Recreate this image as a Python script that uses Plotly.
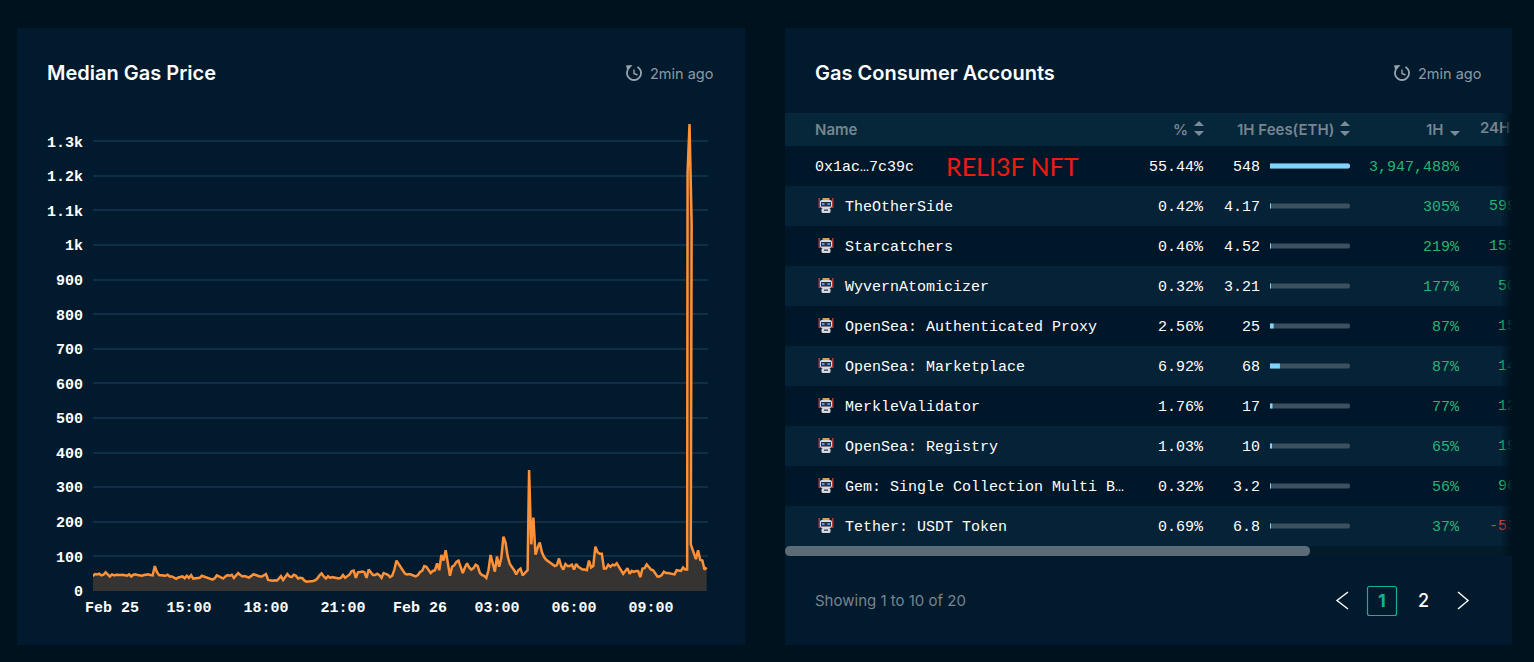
import math
import pandas as pd
import plotly.graph_objects as go

# median gas price, one value every 5 min
gas_price = [
    43, 49, 48, 50, 45, 47, 54, 48, 42, 48, 45,
    47, 46, 46, 47, 45, 44, 48, 42, 47, 48, 46, 44, 44, 46, 47, 48, 46, 45,
    72, 55, 46, 45, 43, 44, 47, 42, 42, 38, 35, 39, 40, 42, 37, 44, 38, 46, 36, 37, 36, 38, 44, 42,
    38, 36, 34, 33, 37, 45, 42, 40, 36, 42, 46, 44, 47, 38, 44, 52, 46, 42, 43, 41, 39,
    43, 48, 47, 44, 42, 42, 46, 49, 32, 30, 30, 31, 30, 36, 43, 32, 42, 49, 42, 40, 47, 44, 36, 38, 37, 30,
    27, 27, 27, 29, 31, 36, 45, 51, 42, 36, 43, 38, 40, 39, 38, 36, 38, 46, 38, 42, 47, 57, 59, 38, 54, 55, 56, 54, 38,
    62, 52, 46, 46, 50, 46, 38, 52, 50, 47, 40, 44, 62, 88, 78, 68, 58, 50, 48,
    49, 47, 44, 42, 46, 55, 58, 72, 70, 62, 52, 58, 60,
    80, 60, 104, 88, 118, 80, 44, 70, 74, 84, 88, 70, 52, 68, 80, 68, 62, 66, 76, 72, 52, 46, 44, 38, 60, 104, 82, 56, 100,
    70, 95, 157, 140, 100, 78, 70, 60, 48, 60, 65, 45, 52, 60,
    350, 135, 212, 105, 125, 140, 112, 98, 90, 85, 82, 76, 72, 75, 94, 72,
    62, 78, 72, 72, 76, 62, 78, 70, 65, 62, 62, 60, 88, 68, 72, 128, 112, 108, 108, 65, 65, 76, 70, 76, 74, 80, 70, 58, 50, 58,
    66, 50, 58, 55, 58, 58, 40, 65, 66, 77, 70, 62, 60, 52, 42, 42, 46, 56, 52, 52, 50, 49, 48, 60, 60, 58, 68, 62,
    62, 1210, 1350, 1060, 135, 92, 118, 90, 88, 62, 68,
]
# 5 min grid, the two spikes rise faster than that so a few samples sit off it
times = pd.date_range("2022-02-25 11:15", periods=288, freq="5min").tolist()
times.insert(278, pd.Timestamp("2022-02-26 10:24:30"))
times[279] = pd.Timestamp("2022-02-26 10:25:30")
times[282] = pd.Timestamp("2022-02-26 10:33:00")
times[203] = pd.Timestamp("2022-02-26 04:11:30")

y_ticks = [0, 100, 200, 300, 400, 500, 600, 700, 800, 900, 1000, 1100, 1200, 1300]
y_labels = ["0", "100", "200", "300", "400", "500", "600", "700", "800", "900", "1k", "1.1k", "1.2k", "1.3k"]
x_ticks = ["2022-02-25 12:00", "2022-02-25 15:00", "2022-02-25 18:00", "2022-02-25 21:00",
           "2022-02-26 00:00", "2022-02-26 03:00", "2022-02-26 06:00", "2022-02-26 09:00"]
x_labels = ["Feb 25", "15:00", "18:00", "21:00", "Feb 26", "03:00", "06:00", "09:00"]

# table columns
names = ["0x1ac…7c39c", "TheOtherSide", "Starcatchers", "WyvernAtomicizer", "OpenSea: Authenticated Proxy",
         "OpenSea: Marketplace", "MerkleValidator", "OpenSea: Registry", "Gem: Single Collection Multi B…",
         "Tether: USDT Token"]
share = ["55.44%", "0.42%", "0.46%", "0.32%", "2.56%", "6.92%", "1.76%", "1.03%", "0.32%", "0.69%"]
fees_text = ["548", "4.17", "4.52", "3.21", "25", "68", "17", "10", "3.2", "6.8"]
fees = [548, 4.17, 4.52, 3.21, 25, 68, 17, 10, 3.2, 6.8]
change_1h = ["3,947,488%", "305%", "219%", "177%", "87%", "87%", "77%", "65%", "56%", "37%"]
change_24h = ["", "599%", "155%", "50%", "15%", "14%", "12%", "19%", "96%", "-53%"]

W, H = 1534, 662
BG = "#00121e"
PANEL = "#011a2d"
ROW_DARK = "#00172a"
ROW_LIGHT = "#062236"
HEADER = "#06263a"
GREY = "#76858f"
GREEN = "#22b573"
RED = "#c9473e"
MONO = "Liberation Mono"
SANS = "Inter"


def dom_x(a, b):
    return [a / W, b / W]


def dom_y(top, bottom):
    return [1 - bottom / H, 1 - top / H]


shapes = []
annots = []


def rect(x0, y0, x1, y1, color, above=False, opacity=1):
    shapes.append(dict(type="rect", xref="x", yref="y", x0=x0, y0=y0, x1=x1, y1=y1, fillcolor=color,
                       opacity=opacity, line_width=0, layer="above" if above else "below"))


def path(d, fill=None, line=None, width=1.5, above=True):
    shapes.append(dict(type="path", xref="x", yref="y", path=d, fillcolor=fill or "rgba(0,0,0,0)",
                       line=dict(color=line or "rgba(0,0,0,0)", width=width if line else 0),
                       layer="above" if above else "below"))


def rounded(x0, y0, x1, y1, r, color, above=True):
    d = (f"M{x0 + r},{y0} L{x1 - r},{y0} Q{x1},{y0} {x1},{y0 + r} L{x1},{y1 - r} Q{x1},{y1} {x1 - r},{y1} "
         f"L{x0 + r},{y1} Q{x0},{y1} {x0},{y1 - r} L{x0},{y0 + r} Q{x0},{y0} {x0 + r},{y0} Z")
    path(d, fill=color, above=above)


def text(x, y, s, size=15, color="#ffffff", family=MONO, anchor="right", weight=None, yref="y", yshift=0):
    annots.append(dict(xref="x", yref=yref, x=x, y=y, text=s, showarrow=False, xanchor=anchor, yanchor="middle",
                       borderpad=0, borderwidth=0, yshift=yshift,
                       font=dict(size=size, color=color, family=family, weight=weight)))


def clock(cx, cy):
    pts = [(cx + 7 * math.cos(math.radians(t)), cy + 7 * math.sin(math.radians(t))) for t in range(-60, 215, 15)]
    path("M" + " L".join(f"{x:.1f},{y:.1f}" for x, y in pts), line="#98a3ad", width=1.8)
    path(f"M{cx - 8},{cy - 7.5} L{cx - 1.5},{cy - 8} L{cx - 6.5},{cy - 2} Z", fill="#98a3ad")
    path(f"M{cx},{cy - 3.5} L{cx},{cy + 0.5} L{cx + 3.5},{cy + 2}", line="#98a3ad", width=1.4)


def robot(cx, cy):
    rect(cx - 7.5, cy - 8, cx - 6, cy + 2, "#b03a36", above=True)
    rect(cx + 6, cy - 8, cx + 7.5, cy + 2, "#b03a36", above=True)
    rect(cx - 3.5, cy - 8, cx + 3.5, cy - 6, "#d9a24a", above=True)
    rounded(cx - 6, cy - 6, cx + 6, cy + 2, 2, "#d8d6e0")
    rect(cx - 5, cy - 4, cx + 5, cy + 0.5, "#2a2f45", above=True)
    rect(cx - 4, cy - 3, cx - 1.5, cy - 1, "#3f9fe0", above=True)
    rect(cx + 1.5, cy - 3, cx + 4, cy - 1, "#3f9fe0", above=True)
    rounded(cx - 4.5, cy + 2, cx + 4.5, cy + 7, 1.5, "#d8d6e0")
    rect(cx - 2, cy + 3.5, cx + 2, cy + 4.8, "#3b3f52", above=True)


# panels
rect(17, 28, 745, 645, PANEL)
rect(785, 28, 1512, 645, PANEL)
rect(785, 113, 1512, 146, HEADER)
for i in range(10):
    rect(785, 146 + 40 * i, 1512, 186 + 40 * i, ROW_LIGHT if i % 2 else ROW_DARK)

# scrollbar and pager
rect(785, 546, 1512, 556, "#031c2a")
rounded(785, 546, 1310, 556, 5, "#5b6b78", above=False)
rounded(1367.5, 586.5, 1396.5, 615.5, 2, "rgba(0,0,0,0)", above=False)
shapes[-1]["line"] = dict(color="#0fb58c", width=1.2)
path("M1348,592 L1337,600.5 L1348,609", line="#ffffff", width=1.4)
path("M1458,592 L1468,600.5 L1458,609", line="#ffffff", width=1.4)

# sort arrows in the header
for cx in (1199, 1345):
    path(f"M{cx - 5},126 L{cx},121 L{cx + 5},126 Z", fill="#7d8b97")
    path(f"M{cx - 5},131 L{cx},136 L{cx + 5},131 Z", fill="#7d8b97")
path("M1450,131 L1455,136 L1460,131 Z", fill="#7d8b97")

# fade at the right edge of the table
for i in range(5):
    rect(1502 + 2 * i, 113, 1504 + 2 * i, 556, "#00121e", above=True, opacity=(i + 1) / 5.5)

clock(634, 73)
clock(1402, 73)

text(47, 73, "Median Gas Price", size=20, family=SANS, anchor="left", weight=600)
text(815, 73, "Gas Consumer Accounts", size=20, family=SANS, anchor="left", weight=600)
text(650, 74, "2min ago", size=14.5, family=SANS, color="#8d99a3", anchor="left")
text(1418, 74, "2min ago", size=14.5, family=SANS, color="#8d99a3", anchor="left")

text(815, 129.5, "Name", size=15, family=SANS, color=GREY, anchor="left", weight=600)
text(1188, 129.5, "%", size=15, family=SANS, color=GREY, weight=600)
text(1334, 129.5, "1H Fees(ETH)", size=15, family=SANS, color=GREY, weight=600)
text(1444, 129.5, "1H", size=15, family=SANS, color=GREY, weight=600)

text(946, 166, "RELI3F NFT", size=25, family="Lato", color="#f01a10", anchor="left")

for i, name in enumerate(names):
    if i == 0:
        text(815, i, name, anchor="left", yref="y3", yshift=-1)
    else:
        text(845, i, name, anchor="left", yref="y3", yshift=-1)
        robot(826, 206 + 40 * (i - 1))
    text(1204, i, share[i], yref="y3", yshift=-1)
    text(1260, i, fees_text[i], yref="y3", yshift=-1)
    text(1460, i, change_1h[i], color=GREEN, yref="y3", yshift=-1)

text(815, 600, "Showing 1 to 10 of 20", size=15, family=SANS, color="#76858f", anchor="left")
text(1382, 600, "1", size=18, family=SANS, color="#0fb58c", anchor="center", weight=700)
text(1423, 600, "2", size=18, family=SANS, color="#ffffff", anchor="center", weight=500)

fig = go.Figure()

# chart
fig.add_trace(go.Scatter(x=times, y=gas_price, mode="lines", line=dict(color="#ff9238", width=2.5),
                         fill="tozeroy", fillcolor="#353433", xaxis="x2", yaxis="y2", hoverinfo="skip"))

# fee bars: track then value
fig.add_trace(go.Bar(x=[max(fees)] * len(fees), y=list(range(len(fees))), orientation="h", width=0.125,
                     marker=dict(color="#3d5060", line_width=0), xaxis="x3", yaxis="y3", hoverinfo="skip"))
fig.add_trace(go.Bar(x=fees, y=list(range(len(fees))), orientation="h", width=0.125,
                     marker=dict(color="#7fd4fb", line_width=0), xaxis="x3", yaxis="y3", hoverinfo="skip"))

# 24H column goes in traces so the panel edge clips it
fig.add_trace(go.Scatter(x=[1525] * len(change_24h), y=list(range(len(change_24h))), mode="text",
                         text=change_24h, textposition="middle left", cliponaxis=True,
                         textfont=dict(family=MONO, size=15,
                                       color=[RED if v.startswith("-") else GREEN for v in change_24h]),
                         xaxis="x", yaxis="y4", hoverinfo="skip"))
fig.add_trace(go.Scatter(x=[1480], y=[129.5], mode="text", text=["24H"], textposition="middle right",
                         textfont=dict(family=SANS, size=15, color=GREY, weight=600),
                         xaxis="x", yaxis="y", hoverinfo="skip"))

hidden = dict(visible=False, fixedrange=True, automargin=False)
fig.update_layout(
    width=W, height=H, margin=dict(l=0, r=0, t=0, b=0, autoexpand=False), paper_bgcolor=BG,
    plot_bgcolor="rgba(0,0,0,0)", showlegend=False, barmode="overlay", barcornerradius=3,
    # x/y is the whole page in pixels, stops at the table edge
    xaxis=dict(domain=[0, 1512 / W], range=[0, 1512], **hidden),
    yaxis=dict(domain=[0, 1], range=[H, 0], **hidden),
    xaxis2=dict(domain=dom_x(93, 708), range=["2022-02-25 11:15:35", "2022-02-26 11:13:14"], anchor="y2",
                tickmode="array", tickvals=x_ticks, ticktext=x_labels, showgrid=False, showline=False,
                ticks="", ticklabelstandoff=5, fixedrange=True, automargin=False,
                tickfont=dict(family=MONO, size=15, color="#ffffff", weight=700)),
    yaxis2=dict(domain=dom_y(124, 591), range=[0, 1350], anchor="x2", tickmode="array", tickvals=y_ticks,
                ticktext=y_labels, gridcolor="#0e2f45", gridwidth=1.5, zeroline=False, showline=False,
                ticks="", ticklabelstandoff=9, fixedrange=True, automargin=False,
                tickfont=dict(family=MONO, size=15, color="#ffffff", weight=700)),
    xaxis3=dict(domain=dom_x(1270, 1350), range=[0, max(fees)], anchor="y3", **hidden),
    yaxis3=dict(domain=dom_y(146, 546), range=[9.5, -0.5], anchor="x3", **hidden),
    yaxis4=dict(domain=dom_y(146, 546), range=[9.5, -0.5], anchor="x", **hidden),
    shapes=shapes, annotations=annots,
)

fig.write_html("out.html", config={"displayModeBar": False},
               post_script="document.body.style.margin='0';document.body.style.overflow='hidden';")
